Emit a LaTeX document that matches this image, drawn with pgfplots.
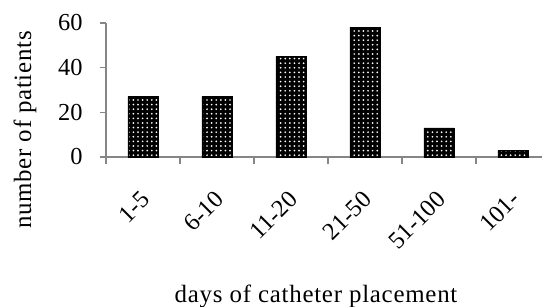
\documentclass[border=0pt]{standalone}
\usepackage{fontspec}
\setmainfont{Liberation Serif}
\newfontfamily\labelfont[LetterSpace=3]{Liberation Serif}
\usepackage{pgfplots}
\pgfplotsset{compat=1.18}
\usetikzlibrary{patterns.meta}
\definecolor{axgray}{RGB}{134,134,134}
\begin{document}
\begin{tikzpicture}
\useasboundingbox (-106bp,-150bp) rectangle (436bp,157bp);
\begin{axis}[
  at={(0,0)}, anchor=south west,
  scale only axis, width=436bp, height=134bp,
  xmin=-0.5, xmax=5.392, ymin=0, ymax=60,
  axis x line=bottom, axis y line=left,
  axis line style={-, draw=axgray, line width=1.4bp},
  tick align=outside,
  ytick={0,20,40,60},
  xtick={0,1,2,3,4,5},
  xticklabels={1-5,6-10,11-20,21-50,51-100,101-},
  minor xtick={-0.5,0.5,1.5,2.5,3.5,4.5},
  major x tick style={draw=none},
  every tick/.style={draw=axgray, line width=1.4bp},
  major tick length=6bp, minor tick length=7bp,
  /pgf/number format/assume math mode=true,
  tick label style={font=\fontsize{24.5}{27}\selectfont, text=black},
  yticklabel style={xshift=-14bp},
  xticklabel style={xshift=5bp, yshift=-30bp, rotate=45, anchor=east},
  ylabel={number of patients},
  ylabel style={at={(axis description cs:-0.1858,0.2015)}, anchor=center, font=\labelfont\fontsize{25}{28}\selectfont},
  xlabel={days of catheter placement},
  xlabel style={at={(axis description cs:0.4817,-1.041)}, anchor=center, font=\labelfont\fontsize{25}{28}\selectfont},
  clip=false,
]
\addplot[ybar, bar width=30bp, fill=black, draw=black, line width=0.6bp,
  postaction={pattern={Dots[distance=4.6bp, radius=0.95bp]}, pattern color=white}]
  coordinates {(0,27) (1,27) (2,45) (3,58) (4,13) (5,3)};
\end{axis}
\end{tikzpicture}
\end{document}
